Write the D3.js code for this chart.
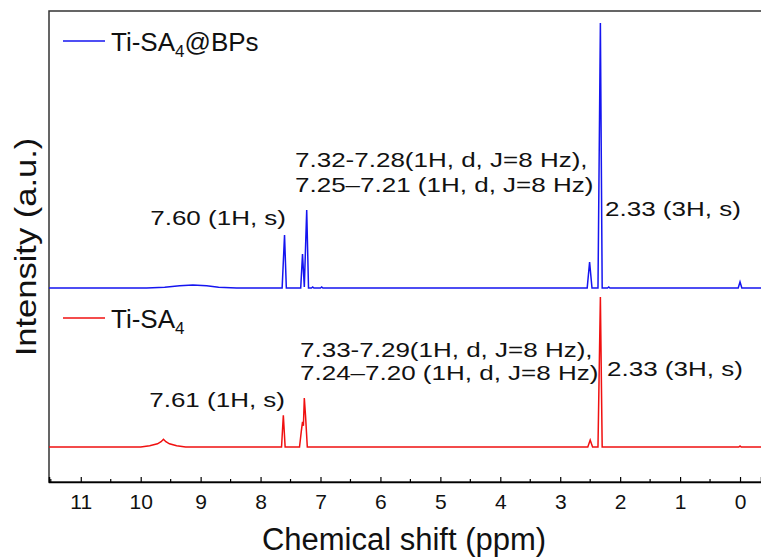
<!DOCTYPE html>
<html>
<head>
<meta charset="utf-8">
<script src="https://cdn.jsdelivr.net/npm/d3@7"></script>
<style>
  body { margin: 0; background: #fff; }
  svg { font-family: Arial, "Liberation Sans", sans-serif; }
</style>
</head>
<body>
<div id="chart"></div>
<script>
// spectrum points: [ppm, intensity above own baseline]
var bluePoints = [
  [11.6, 0], [9.9, 0], [9.6, 0.3], [9.35, 0.8], [9.13, 1.1], [8.9, 0.8], [8.7, 0.3], [8.4, 0],
  [7.64, 0], [7.60, 20], [7.57, 0],
  [7.33, 0], [7.30, 12.8], [7.27, 0.4], [7.23, 29.4], [7.20, 0],
  [7.15, 0], [7.13, 0.4], [7.11, 0], [7.00, 0], [6.98, 0.4], [6.96, 0],
  [2.55, 0], [2.51, 9.8], [2.47, 0],
  [2.37, 0], [2.33, 100], [2.30, 0],
  [2.21, 0], [2.19, 0.4], [2.17, 0],
  [0.03, 0], [0.0, 2.3], [-0.03, 0], [-0.4, 0]
];
var redPoints = [
  [11.6, 0], [10.0, 0], [9.85, 0.5], [9.72, 1.2], [9.66, 2.0], [9.62, 2.9], [9.58, 2.0],
  [9.52, 1.2], [9.40, 0.5], [9.25, 0],
  [7.65, 0], [7.62, 12], [7.59, 0],
  [7.35, 0], [7.32, 6], [7.30, 9.5], [7.285, 8], [7.27, 18.5], [7.25, 12], [7.22, 0],
  [2.54, 0], [2.50, 2.6], [2.46, 0],
  [2.37, 0], [2.33, 56.6], [2.30, 0],
  [0.02, 0], [0.0, 0.4], [-0.02, 0], [-0.4, 0]
];
var blueOffset = 60;
var majorTicks = [11, 10, 9, 8, 7, 6, 5, 4, 3, 2, 1, 0];
var minorTicks = [11.5, 10.5, 9.5, 8.5, 7.5, 6.5, 5.5, 4.5, 3.5, 2.5, 1.5, 0.5];

var width = 761, height = 557;
var plotLeft = 49, plotTop = 11, plotRight = 763, plotBottom = 482;

var svg = d3.select("#chart").append("svg")
    .attr("width", width)
    .attr("height", height);

var x = d3.scaleLinear().domain([11.53, -0.35]).range([plotLeft, 761]);
var y = d3.scaleLinear().domain([-13.2, 164.5]).range([plotBottom, plotTop]);

// frame
svg.append("rect")
    .attr("x", plotLeft).attr("y", plotTop)
    .attr("width", plotRight - plotLeft).attr("height", plotBottom - plotTop)
    .attr("fill", "none").attr("stroke", "#333").attr("stroke-width", 1.5);

svg.append("clipPath").attr("id", "clip")
  .append("rect").attr("x", plotLeft).attr("y", plotTop)
  .attr("width", plotRight - plotLeft).attr("height", plotBottom - plotTop);

var line = d3.line()
    .x(function (d) { return x(d[0]); })
    .y(function (d) { return y(d[1]); });

var g = svg.append("g").attr("clip-path", "url(#clip)");

g.append("path")
    .datum(redPoints)
    .attr("d", line)
    .attr("fill", "none").attr("stroke", "#f01010").attr("stroke-width", 1.5);

g.append("path")
    .datum(bluePoints.map(function (d) { return [d[0], d[1] + blueOffset]; }))
    .attr("d", line)
    .attr("fill", "none").attr("stroke", "#1515f0").attr("stroke-width", 1.5);

// x axis, ticks pointing inward
var axis = svg.append("g").attr("transform", "translate(0," + plotBottom + ")");
axis.call(d3.axisBottom(x).tickValues(majorTicks).tickSize(-5).tickPadding(12).tickFormat(d3.format("d")));
axis.select(".domain").attr("stroke", "#000").attr("stroke-width", 1.5);
axis.selectAll(".tick line").attr("stroke", "#000").attr("stroke-width", 1.2);
axis.selectAll(".tick text").attr("font-size", 21).attr("fill", "#111")
    .attr("font-family", "Arial, 'Liberation Sans', sans-serif");
axis.selectAll(".minor").data(minorTicks).enter().append("line")
    .attr("x1", function (d) { return x(d); }).attr("x2", function (d) { return x(d); })
    .attr("y1", 0).attr("y2", -3).attr("stroke", "#000").attr("stroke-width", 1.2);

svg.append("text")
    .attr("x", 404).attr("y", 550)
    .attr("text-anchor", "middle").attr("font-size", 31).attr("fill", "#111")
    .text("Chemical shift (ppm)");

svg.append("text")
    .attr("transform", "translate(36,247) rotate(-90) scale(1.15,1)")
    .attr("text-anchor", "middle").attr("font-size", 30).attr("fill", "#111")
    .text("Intensity (a.u.)");

// legends
function legend(ly, color, base, sub, rest) {
  svg.append("line").attr("x1", 63).attr("x2", 105).attr("y1", ly).attr("y2", ly)
      .attr("stroke", color).attr("stroke-width", 1.5);
  var t = svg.append("text").attr("x", 111).attr("y", ly + 10).attr("font-size", 26).attr("fill", "#111");
  t.append("tspan").text(base);
  t.append("tspan").attr("font-size", 17).attr("dy", 6).text(sub);
  if (rest) t.append("tspan").attr("dy", -6).text(rest);
}
legend(41, "#1515f0", "Ti-SA", "4", "@BPs");
legend(318, "#f01010", "Ti-SA", "4", null);

// peak annotations (text is a little wide in the figure)
var notes = [
  { x: 286, y: 225, a: "end", t: "7.60 (1H, s)" },
  { x: 295, y: 167, a: "start", t: "7.32-7.28(1H, d, J=8 Hz)," },
  { x: 295, y: 192, a: "start", t: "7.25\u20137.21 (1H, d, J=8 Hz)" },
  { x: 605, y: 216, a: "start", t: "2.33 (3H, s)" },
  { x: 285, y: 407, a: "end", t: "7.61 (1H, s)" },
  { x: 300, y: 357, a: "start", t: "7.33-7.29(1H, d, J=8 Hz)," },
  { x: 300, y: 380, a: "start", t: "7.24\u20137.20 (1H, d, J=8 Hz)" },
  { x: 607, y: 376, a: "start", t: "2.33 (3H, s)" }
];
svg.selectAll(".note").data(notes).enter().append("text")
    .attr("class", "note")
    .attr("transform", function (d) { return "translate(" + d.x + "," + d.y + ") scale(1.3,1)"; })
    .attr("text-anchor", function (d) { return d.a; })
    .attr("font-size", 20).attr("fill", "#111")
    .text(function (d) { return d.t; });
</script>
</body>
</html>
